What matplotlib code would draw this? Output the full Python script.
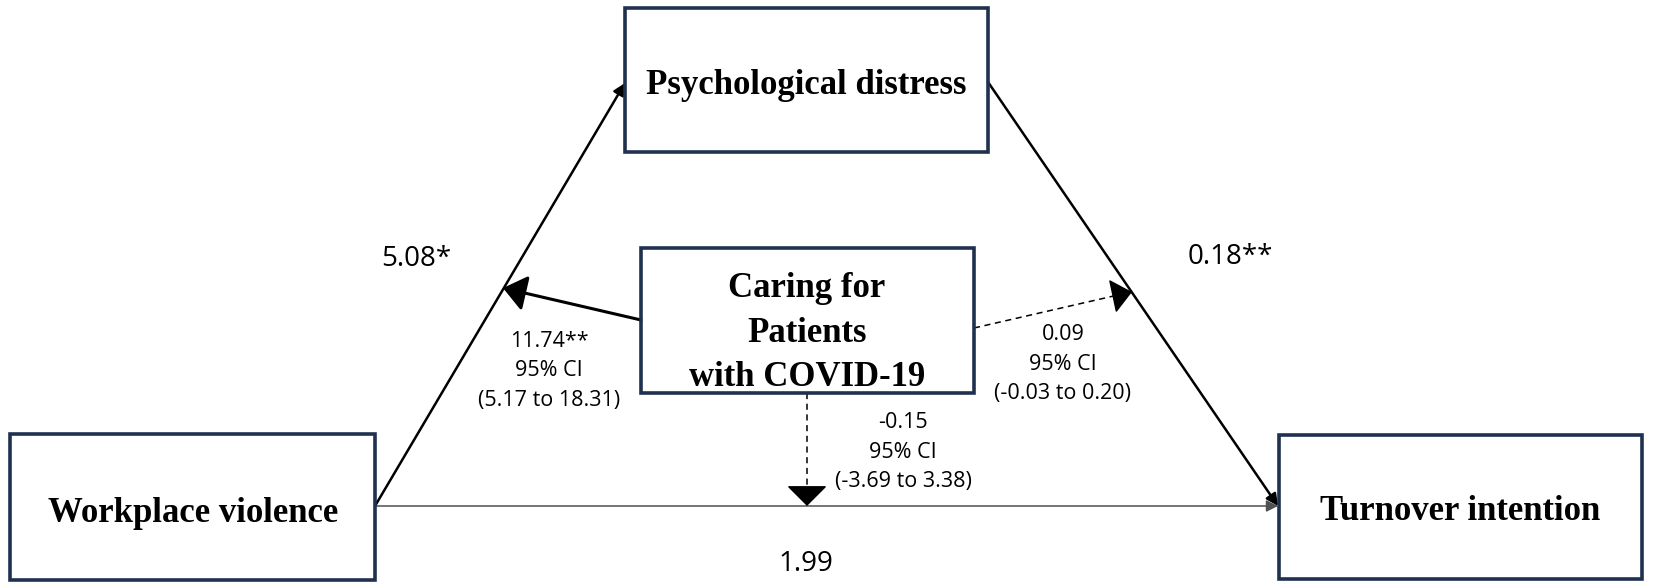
import matplotlib.pyplot as plt
from matplotlib.patches import Rectangle, FancyArrowPatch

# node names and path coefficients
nodes = ["Psychological distress", "Caring for\nPatients\nwith COVID-19",
         "Workplace violence", "Turnover intention"]
path_a = "5.08*"
path_b = "0.18**"
path_c = "1.99"
mod_a = ["11.74**", "95% CI", "(5.17 to 18.31)"]
mod_b = ["0.09", "95% CI", "(-0.03 to 0.20)"]
mod_c = ["-0.15", "95% CI", "(-3.69 to 3.38)"]

# layout in pixels (x0, y0, x1, y1)
boxes = {
    "pd": (625, 8, 988, 152),
    "care": (641, 248, 974, 393),
    "wv": (10, 434, 375, 580),
    "ti": (1279, 435, 1642, 579),
}
box_color = "#1f3050"
serif = "Liberation Serif"
sans = "Open Sans"

fig = plt.figure(figsize=(16.54, 5.87), dpi=100)
ax = fig.add_axes([0, 0, 1, 1])
ax.set_xlim(0, 1654)
ax.set_ylim(587, 0)
ax.axis("off")

for key, name in zip(["pd", "care", "wv", "ti"], nodes):
    x0, y0, x1, y1 = boxes[key]
    ax.add_patch(Rectangle((x0, y0), x1 - x0, y1 - y0, fill=False,
                           edgecolor=box_color, lw=2.6, zorder=3))

text_pos = {"pd": (806, 85), "care": (807, 333), "wv": (193, 513), "ti": (1460, 511)}
for key, name in zip(["pd", "care", "wv", "ti"], nodes):
    ax.text(*text_pos[key], name, ha="center", va="center", family=serif,
            fontweight="bold", fontsize=25, linespacing=1.45, zorder=4)


def arrow(p0, p1, lw, color="black", hl=7, hw=3.5, ls="-"):
    ax.add_patch(FancyArrowPatch(p0, p1, arrowstyle=f"-|>,head_length={hl},head_width={hw}",
                                 mutation_scale=1, lw=lw, color=color, linestyle=ls,
                                 shrinkA=0, shrinkB=0, zorder=2))


# main paths
arrow((375, 506), (625, 83), 1.8)
arrow((988, 82), (1278, 506), 1.8)
arrow((375, 506), (1278, 506), 1.1, color="#505050")

# moderation paths
arrow((641, 320), (503, 288), 2.2, hl=14, hw=11)
ax.plot([974, 1118], [328, 295], ls=(0, (4, 3)), lw=1.1, color="black")
arrow((1118, 295), (1132, 292), 1.1, hl=13, hw=11)
ax.plot([807, 807], [393, 492], ls=(0, (4, 3)), lw=1.1, color="black")
arrow((807, 492), (807, 506), 1.1, hl=13, hw=13)

ax.text(416, 259, path_a, ha="center", va="center", family=sans, fontsize=20)
ax.text(1230, 257, path_b, ha="center", va="center", family=sans, fontsize=20)
ax.text(806, 564, path_c, ha="center", va="center", family=sans, fontsize=20)

for lines, (x, y) in zip([mod_a, mod_b, mod_c], [(549, 371), (1063, 364), (903, 452)]):
    ax.text(x, y, "\n".join(lines), ha="center", va="center", family=sans,
            fontsize=15.5, linespacing=1.52)

fig.savefig("out.png", dpi=100)
